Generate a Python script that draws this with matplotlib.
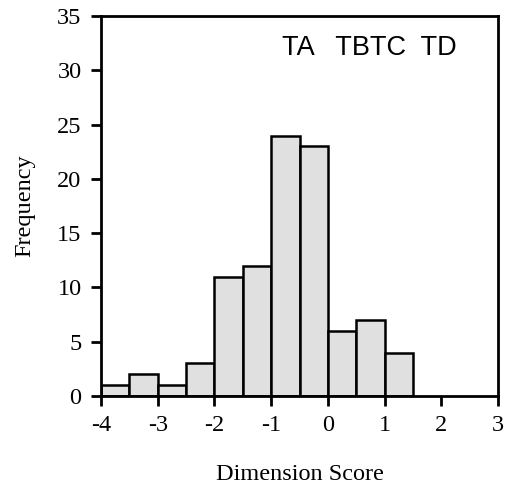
import numpy as np
import matplotlib.pyplot as plt

# bin edges and counts
bin_edges = [-4.0, -3.5, -3.0, -2.5, -2.0, -1.5, -1.0, -0.5, 0.0, 0.5, 1.0, 1.5]
counts = [1, 2, 1, 3, 11, 12, 24, 23, 6, 7, 4]
x_ticks = [-4, -3, -2, -1, 0, 1, 2, 3]
y_ticks = [0, 5, 10, 15, 20, 25, 30, 35]

plt.rcParams["font.family"] = ["Liberation Serif", "DejaVu Serif"]

fig = plt.figure(figsize=(5.06, 4.91), dpi=100)
ax = fig.add_axes([0.1996, 0.1935, 0.7846, 0.7735])

lefts = np.array(bin_edges[:-1])
widths = np.diff(bin_edges)
ax.bar(lefts, counts, width=widths, align="edge",
       color="#e0e0e0", edgecolor="black", linewidth=1.8)

ax.set_xlim(-4, 3)
ax.set_ylim(0, 35)
ax.set_xticks(x_ticks)
ax.set_yticks(y_ticks)
ax.set_xticklabels([str(t) for t in x_ticks])
ax.tick_params(direction="out", length=7, width=2, labelsize=17.5, pad=7)

for side in ax.spines.values():
    side.set_linewidth(2)

ax.set_xlabel("Dimension Score", fontsize=17.5, labelpad=20)
ax.set_ylabel("Frequency", fontsize=17.5, labelpad=16)

ax.text(0.455, 0.915, "TA   TBTC  TD", transform=ax.transAxes,
        fontsize=19.5, family="Liberation Sans", ha="left", va="center")

fig.savefig("out.png", dpi=100)
